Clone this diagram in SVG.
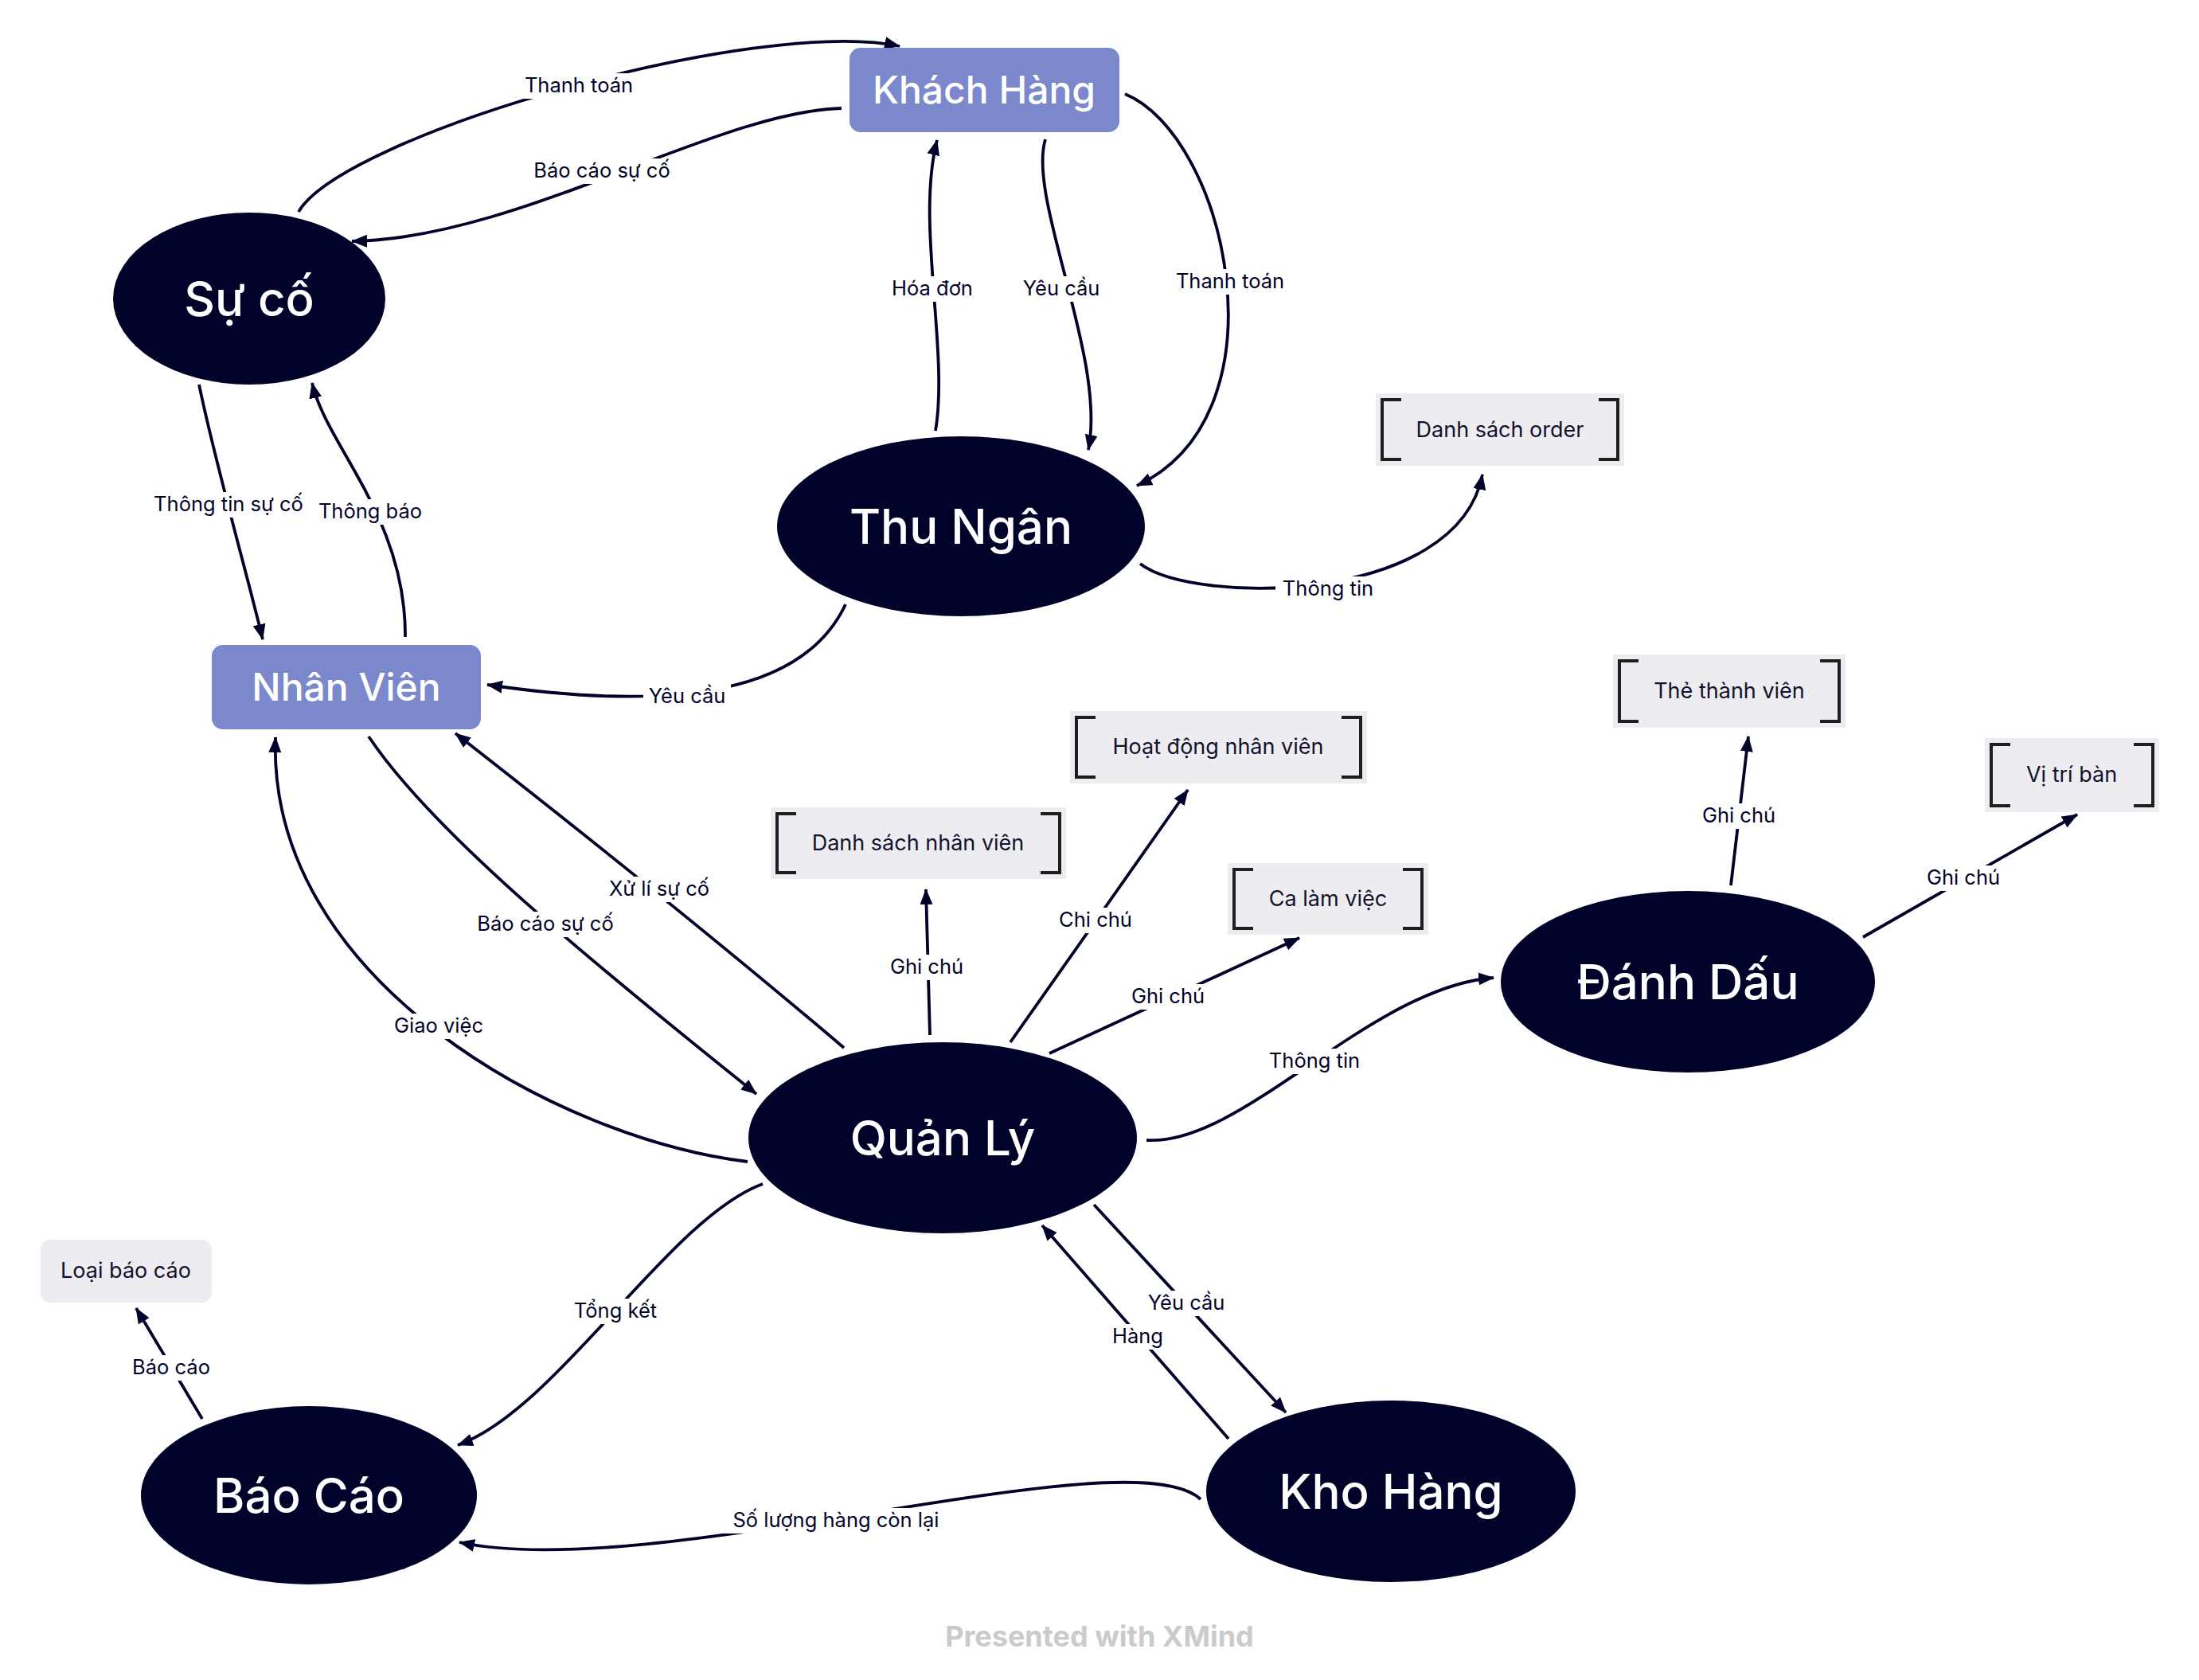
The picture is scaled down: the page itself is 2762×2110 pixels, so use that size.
<svg xmlns="http://www.w3.org/2000/svg" width="2762" height="2110" viewBox="0 0 2762 2110">
<style>
.bg{fill:#ffffff}
.ell{fill:#000229}
.rn{fill:#7b88cc}
.note{fill:#edecf0}
.br{fill:none;stroke:#1e1e1e;stroke-width:4}
.tb{font-family:Inter,'Noto Sans',sans-serif;font-size:60px;font-weight:500;fill:#ffffff;text-anchor:middle}
.tr{font-family:Inter,'Noto Sans',sans-serif;font-size:48px;font-weight:500;fill:#ffffff;text-anchor:middle}
.tn{font-family:Inter,'Noto Sans',sans-serif;font-size:27px;fill:#10122e;text-anchor:middle}
.c{fill:none;stroke:#000229;stroke-width:3.8;marker-end:url(#ah)}
.lb{fill:#ffffff}
.lt{font-family:Inter,'Noto Sans',sans-serif;font-size:25.5px;fill:#000229;text-anchor:middle}
.wm{font-family:Inter,'Noto Sans',sans-serif;font-size:36px;font-weight:700;fill:#cbcbcb;text-anchor:middle}
</style>
<defs>
<marker id="ah" viewBox="0 0 20 16" refX="19" refY="8" markerWidth="20" markerHeight="16" markerUnits="userSpaceOnUse" orient="auto">
<path d="M0,0 L20,8 L0,16 z" fill="#000229"/>
</marker>
</defs>
<rect class="bg" x="0" y="0" width="2762" height="2110"/>

<g id="connectors">
<path class="c" d="M375,266 C430,170 950,20 1130,58"/>
<path class="c" d="M1057,136 C900,140 650,300 442,303"/>
<path class="c" d="M1175,541 C1192,440 1150,280 1177,176"/>
<path class="c" d="M1313,175 C1290,250 1390,450 1367,565"/>
<path class="c" d="M1413,118 C1540,170 1620,520 1428,610"/>
<path class="c" d="M1432,708 C1500,760 1830,760 1862,596"/>
<path class="c" d="M1062,759 C1010,870 850,895 612,860"/>
<path class="c" d="M250,483 C270,580 310,720 330,803"/>
<path class="c" d="M509,800 C510,650 410,560 392,481"/>
<path class="c" d="M1060,1316 C900,1180 750,1060 572,921"/>
<path class="c" d="M463,925 C540,1040 720,1190 950,1374"/>
<path class="c" d="M939,1459 C700,1430 335,1230 346,926"/>
<path class="c" d="M1168,1300 L1163,1117"/>
<path class="c" d="M1269,1309 L1492,992"/>
<path class="c" d="M1318,1323 L1632,1178"/>
<path class="c" d="M1440,1432 C1560,1440 1720,1240 1876,1228"/>
<path class="c" d="M2174,1112 L2196,925"/>
<path class="c" d="M2340,1177 L2609,1023"/>
<path class="c" d="M958,1487 C840,1530 700,1770 575,1815"/>
<path class="c" d="M254,1782 L171,1643"/>
<path class="c" d="M1508,1883 C1420,1800 820,1990 577,1937"/>
<path class="c" d="M1374,1513 L1615,1774"/>
<path class="c" d="M1543,1807 L1309,1539"/>

<rect class="lb" x="651" y="92" width="152" height="32"/><text class="lt" x="727" y="116">Thanh toán</text>
<rect class="lb" x="659" y="199" width="194" height="32"/><text class="lt" x="756" y="223">Báo cáo sự cố</text>
<rect class="lb" x="1111" y="347" width="120" height="32"/><text class="lt" x="1171" y="371">Hóa đơn</text>
<rect class="lb" x="1278" y="347" width="110" height="32"/><text class="lt" x="1333" y="371">Yêu cầu</text>
<rect class="lb" x="1469" y="338" width="152" height="32"/><text class="lt" x="1545" y="362">Thanh toán</text>
<rect class="lb" x="1602" y="724" width="132" height="32"/><text class="lt" x="1668" y="748">Thông tin</text>
<rect class="lb" x="808" y="859" width="110" height="32"/><text class="lt" x="863" y="883">Yêu cầu</text>
<rect class="lb" x="184" y="618" width="206" height="32"/><text class="lt" x="287" y="642">Thông tin sự cố</text>
<rect class="lb" x="392" y="627" width="146" height="32"/><text class="lt" x="465" y="651">Thông báo</text>
<rect class="lb" x="754" y="1101" width="148" height="32"/><text class="lt" x="828" y="1125">Xử lí sự cố</text>
<rect class="lb" x="588" y="1145" width="194" height="32"/><text class="lt" x="685" y="1169">Báo cáo sự cố</text>
<rect class="lb" x="486" y="1273" width="130" height="32"/><text class="lt" x="551" y="1297">Giao việc</text>
<rect class="lb" x="1111" y="1199" width="106" height="32"/><text class="lt" x="1164" y="1223">Ghi chú</text>
<rect class="lb" x="1323" y="1140" width="106" height="32"/><text class="lt" x="1376" y="1164">Chi chú</text>
<rect class="lb" x="1414" y="1236" width="106" height="32"/><text class="lt" x="1467" y="1260">Ghi chú</text>
<rect class="lb" x="1585" y="1317" width="132" height="32"/><text class="lt" x="1651" y="1341">Thông tin</text>
<rect class="lb" x="2131" y="1009" width="106" height="32"/><text class="lt" x="2184" y="1033">Ghi chú</text>
<rect class="lb" x="2413" y="1087" width="106" height="32"/><text class="lt" x="2466" y="1111">Ghi chú</text>
<rect class="lb" x="712" y="1631" width="122" height="32"/><text class="lt" x="773" y="1655">Tổng kết</text>
<rect class="lb" x="158" y="1702" width="114" height="32"/><text class="lt" x="215" y="1726">Báo cáo</text>
<rect class="lb" x="904" y="1894" width="292" height="32"/><text class="lt" x="1050" y="1918">Số lượng hàng còn lại</text>
<rect class="lb" x="1435" y="1621" width="110" height="32"/><text class="lt" x="1490" y="1645">Yêu cầu</text>
<rect class="lb" x="1391" y="1663" width="76" height="32"/><text class="lt" x="1429" y="1687">Hàng</text>
</g>

<g id="khach-hang"><rect class="rn" x="1067" y="60" width="339" height="106" rx="14"/><text class="tr" x="1236" y="130">Khách Hàng</text></g>
<g id="nhan-vien"><rect class="rn" x="266" y="810" width="338" height="106" rx="14"/><text class="tr" x="435" y="880">Nhân Viên</text></g>
<g id="su-co"><ellipse class="ell" cx="313" cy="375" rx="171" ry="108"/><text class="tb" x="313" y="397">Sự cố</text></g>
<g id="thu-ngan"><ellipse class="ell" cx="1207" cy="661" rx="231" ry="113"/><text class="tb" x="1207" y="683">Thu Ngân</text></g>
<g id="quan-ly"><ellipse class="ell" cx="1184" cy="1429" rx="244" ry="120"/><text class="tb" x="1184" y="1451">Quản Lý</text></g>
<g id="danh-dau"><ellipse class="ell" cx="2120" cy="1233" rx="235" ry="114"/><text class="tb" x="2120" y="1255">Đánh Dấu</text></g>
<g id="bao-cao"><ellipse class="ell" cx="388" cy="1878" rx="211" ry="112"/><text class="tb" x="388" y="1900">Báo Cáo</text></g>
<g id="kho-hang"><ellipse class="ell" cx="1747" cy="1873" rx="232" ry="114"/><text class="tb" x="1747" y="1895">Kho Hàng</text></g>

<g id="danh-sach-order"><rect class="note" x="1728" y="494" width="312" height="91"/><path class="br" d="M1760,502 H1736 V577 H1760 M2008,502 H2032 V577 H2008"/><text class="tn" x="1884" y="549">Danh sách order</text></g>
<g id="the-thanh-vien"><rect class="note" x="2026" y="822" width="292" height="92"/><path class="br" d="M2058,830 H2034 V906 H2058 M2286,830 H2310 V906 H2286"/><text class="tn" x="2172" y="877">Thẻ thành viên</text></g>
<g id="vi-tri-ban"><rect class="note" x="2493" y="927" width="219" height="93"/><path class="br" d="M2525,935 H2501 V1012 H2525 M2680,935 H2704 V1012 H2680"/><text class="tn" x="2602" y="982">Vị trí bàn</text></g>
<g id="hoat-dong-nhan-vien"><rect class="note" x="1344" y="893" width="373" height="91"/><path class="br" d="M1376,901 H1352 V976 H1376 M1685,901 H1709 V976 H1685"/><text class="tn" x="1530" y="947">Hoạt động nhân viên</text></g>
<g id="danh-sach-nhan-vien"><rect class="note" x="968" y="1014" width="371" height="90"/><path class="br" d="M1000,1022 H976 V1096 H1000 M1307,1022 H1331 V1096 H1307"/><text class="tn" x="1153" y="1068">Danh sách nhân viên</text></g>
<g id="ca-lam-viec"><rect class="note" x="1542" y="1084" width="252" height="90"/><path class="br" d="M1574,1092 H1550 V1166 H1574 M1762,1092 H1786 V1166 H1762"/><text class="tn" x="1668" y="1138">Ca làm việc</text></g>
<g id="loai-bao-cao"><rect class="note" x="51" y="1557" width="215" height="79" rx="12"/><text class="tn" x="158" y="1605">Loại báo cáo</text></g>

<text class="wm" x="1381" y="2068">Presented with XMind</text>
</svg>
